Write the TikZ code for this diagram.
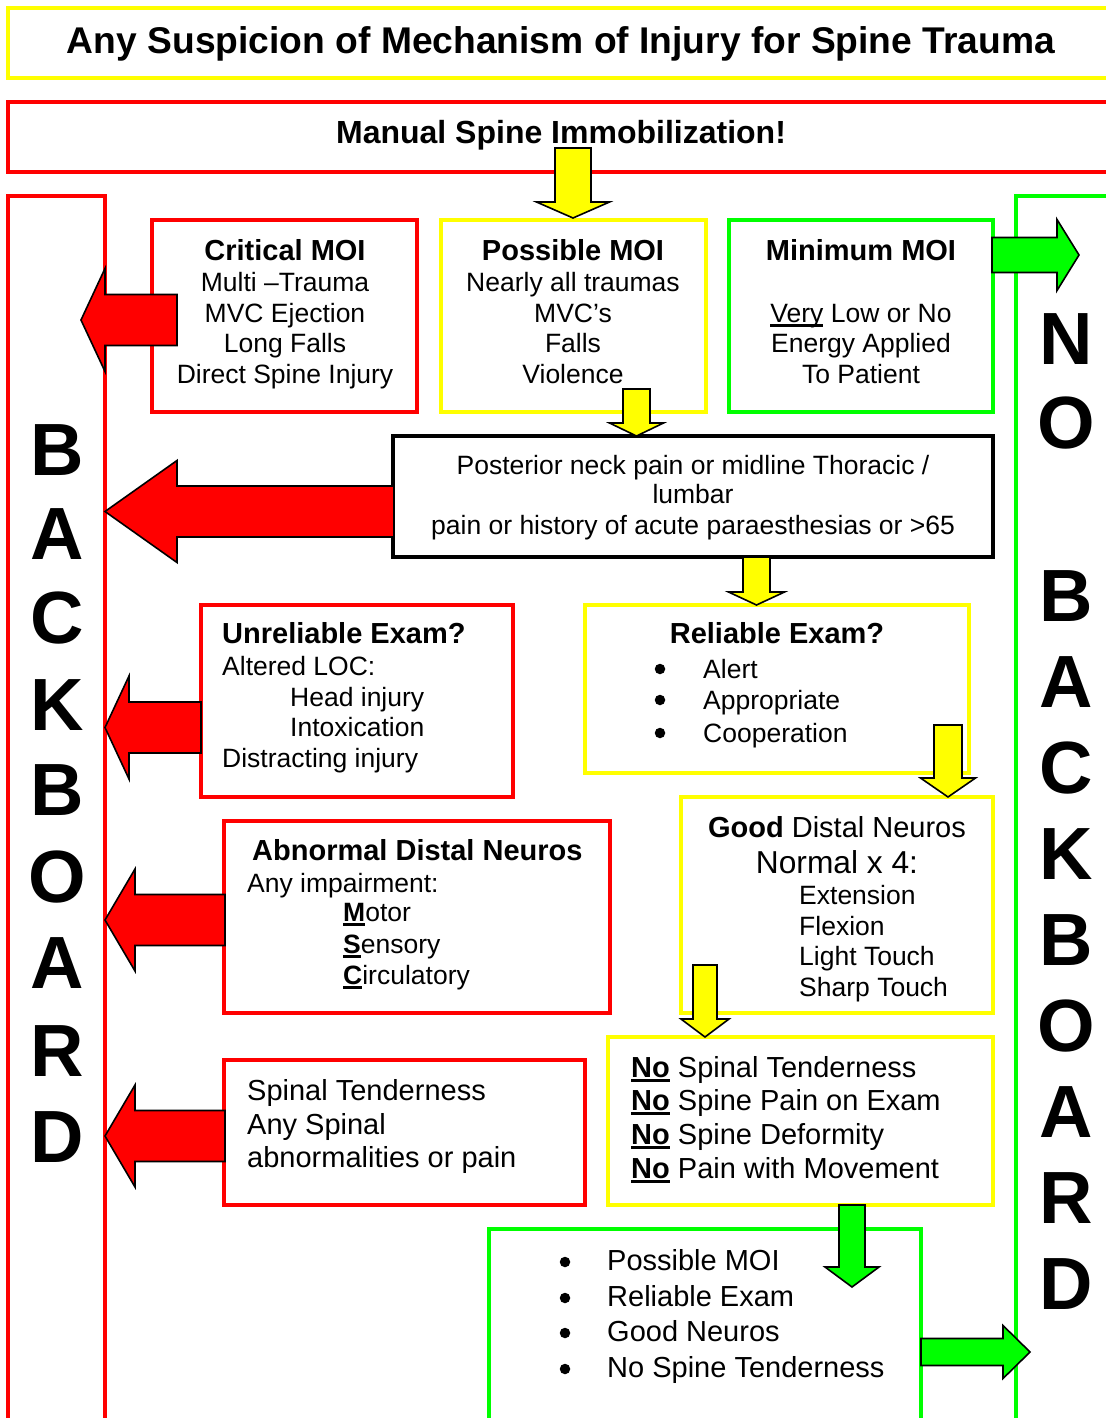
\documentclass[tikz,border=0pt]{standalone}
\usepackage{fontspec}
\setmainfont{Liberation Sans}
\definecolor{bred}{RGB}{255,0,0}
\definecolor{byel}{RGB}{255,255,0}
\definecolor{bgrn}{RGB}{0,255,0}
\newcommand\myul[1]{\setbox0\hbox{#1}\rlap{\rule[-4pt]{\wd0}{2.5pt}}\box0\relax}
\newcommand\bodyfont{\fontsize{26.5pt}{30pt}\selectfont}
\newcommand\hdrfont{\fontsize{29pt}{33pt}\selectfont\bfseries}
\newcommand\midfont{\fontsize{29pt}{33pt}\selectfont}
\newcommand\myharrow[7]{\filldraw[blockarrow,fill=#1] (#2,#5-#6) -- (#3,#5-#6) -- (#3,#5-#7) -- (#4,#5) -- (#3,#5+#7) -- (#3,#5+#6) -- (#2,#5+#6) -- cycle;}
\newcommand\myvarrow[7]{\filldraw[blockarrow,fill=#1] (#2-#6,#3) -- (#2-#6,#4) -- (#2-#7,#4) -- (#2,#5) -- (#2+#7,#4) -- (#2+#6,#4) -- (#2+#6,#3) -- cycle;}
\newcommand\mybox[6]{\node[boxst,draw=#2,minimum width={#5-#3},minimum height={#6-#4}] (#1) at ({(#3+#5)/2},{(#4+#6)/2}) {};}
\begin{document}
\begin{tikzpicture}[x=1pt,y=-1pt,
  boxst/.style={line width=4pt, inner sep=0pt, outer sep=0pt},
  blockarrow/.style={draw=black, line width=1.6pt, line join=miter},
  txt/.style={inner sep=0pt, anchor=base, font=\bodyfont},
  txtl/.style={inner sep=0pt, anchor=base west, font=\bodyfont},
  hdr/.style={inner sep=0pt, anchor=base, font=\hdrfont},
  hdrl/.style={inner sep=0pt, anchor=base west, font=\hdrfont},
  bullet/.style={circle, fill=black, inner sep=0pt, minimum size=10.5pt},
  bigl/.style={inner sep=0pt, anchor=base, font=\fontsize{74pt}{80pt}\selectfont\bfseries}]
\useasboundingbox (0,0) rectangle (1105,1418);
\fill[white] (0,0) rectangle (1105,1418);
% boxes
\mybox{title}{byel}{8}{8}{1125}{78}
\mybox{manual}{bred}{8}{102}{1125}{172}
\mybox{backL}{bred}{8}{196}{105}{1440}
\mybox{backR}{bgrn}{1016}{196}{1125}{1440}
\mybox{crit}{bred}{152}{220}{417}{412}
\mybox{poss}{byel}{441}{220}{706}{412}
\mybox{mini}{bgrn}{729}{220}{993}{412}
\mybox{post}{black}{393}{436}{993}{557}
\mybox{unrel}{bred}{201}{605}{513}{797}
\mybox{reli}{byel}{585}{605}{969}{773}
\mybox{abn}{bred}{224}{821}{610}{1013}
\mybox{good}{byel}{681}{797}{993}{1013}
\mybox{spin}{bred}{224}{1060}{585}{1205}
\mybox{nosp}{byel}{608}{1037}{993}{1205}
\mybox{bott}{bgrn}{489}{1229}{921}{1440}
% texts
\node[inner sep=0pt, anchor=base, font=\fontsize{37.2pt}{40pt}\selectfont\bfseries] (titletxt) at (561,54) {Any Suspicion of Mechanism of Injury for Spine Trauma};
\node[inner sep=0pt, anchor=base, font=\fontsize{32pt}{36pt}\selectfont\bfseries] (manualtxt) at (561,143) {Manual Spine Immobilization!};
% critical
\node[hdr] (c0) at (285,260.5) {Critical MOI};
\node[txt] (c1) at (285,291.5) {Multi –Trauma};
\node[txt] (c2) at (285,322.5) {MVC Ejection};
\node[txt] (c3) at (285,352.5) {Long Falls};
\node[txt] (c4) at (285,383.5) {Direct Spine Injury};
% possible
\node[hdr] (p0) at (573,260.5) {Possible MOI};
\node[txt] (p1) at (573,291.5) {Nearly all traumas};
\node[txt] (p2) at (573,322.5) {MVC’s};
\node[txt] (p3) at (573,352.5) {Falls};
\node[txt] (p4) at (573,383.5) {Violence};
% minimum
\node[hdr] (m0) at (861,260.5) {Minimum MOI};
\node[txt] (m2) at (861,322.5) {\myul{Very} Low or No};
\node[txt] (m3) at (861,352.5) {Energy Applied};
\node[txt] (m4) at (861,383.5) {To Patient};
% posterior
\node[txt] (q1) at (693,474.5) {Posterior neck pain or midline Thoracic /};
\node[txt] (q2) at (693,503.5) {lumbar};
\node[txt] (q3) at (693,534.5) {pain or history of acute paraesthesias or >65};
% unreliable
\node[hdrl] (u0) at (222,643.5) {Unreliable Exam?};
\node[txtl] (u1) at (222,675.5) {Altered LOC:};
\node[txtl] (u2) at (290,706.5) {Head injury};
\node[txtl] (u3) at (290,736.5) {Intoxication};
\node[txtl] (u4) at (222,767.5) {Distracting injury};
% reliable
\node[hdr] (r0) at (777,643.5) {Reliable Exam?};
\node[bullet] (rb1) at (660,669) {};
\node[bullet] (rb2) at (660,700) {};
\node[bullet] (rb3) at (660,733) {};
\node[txtl] (r1) at (703,678.5) {Alert};
\node[txtl] (r2) at (703,709.5) {Appropriate};
\node[txtl] (r3) at (703,742.5) {Cooperation};
% abnormal
\node[hdrl] (a0) at (252,860.5) {Abnormal Distal Neuros};
\node[txtl] (a1) at (247,892.5) {Any impairment:};
\node[txtl] (a2) at (343,921.5) {\myul{\bfseries M}otor};
\node[txtl] (a3) at (343,953.5) {\myul{\bfseries S}ensory};
\node[txtl] (a4) at (343,984.5) {\myul{\bfseries C}irculatory};
% good
\node[txt, font=\midfont] (g0) at (837,837.5) {\textbf{Good} Distal Neuros};
\node[txt, font=\fontsize{31.7pt}{35pt}\selectfont] (g1) at (837,873.5) {Normal x 4:};
\node[txtl] (g2) at (799,904.5) {Extension};
\node[txtl] (g3) at (799,935.5) {Flexion};
\node[txtl] (g4) at (799,965.5) {Light Touch};
\node[txtl] (g5) at (799,996.5) {Sharp Touch};
% spinal
\node[txtl, font=\midfont] (s1) at (247,1100.5) {Spinal Tenderness};
\node[txtl, font=\midfont] (s2) at (247,1134.5) {Any Spinal};
\node[txtl, font=\midfont] (s3) at (247,1167.5) {abnormalities or pain};
% no spinal
\node[txtl, font=\midfont] (n1) at (631,1077.5) {\myul{\bfseries No} Spinal Tenderness};
\node[txtl, font=\midfont] (n2) at (631,1110.5) {\myul{\bfseries No} Spine Pain on Exam};
\node[txtl, font=\midfont] (n3) at (631,1144.5) {\myul{\bfseries No} Spine Deformity};
\node[txtl, font=\midfont] (n4) at (631,1178.5) {\myul{\bfseries No} Pain with Movement};
% bottom
\node[bullet] (bb1) at (565,1262) {};
\node[bullet] (bb2) at (565,1298) {};
\node[bullet] (bb3) at (565,1333) {};
\node[bullet] (bb4) at (565,1369) {};
\node[txtl, font=\midfont] (b1) at (607,1270.5) {Possible MOI};
\node[txtl, font=\midfont] (b2) at (607,1306.5) {Reliable Exam};
\node[txtl, font=\midfont] (b3) at (607,1341.5) {Good Neuros};
\node[txtl, font=\midfont] (b4) at (607,1377.5) {No Spine Tenderness};
% backboard letters
\foreach \l/\yy [count=\i] in {B/449,A/533,C/617,K/704,B/789,O/876,A/962,R/1050,D/1136}
  \node[bigl] (L\i) at (57,\yy+26.5) {\l};
\foreach \l/\yy [count=\i] in {N/338,O/422,B/595,A/681,C/767,K/853,B/939,O/1025,A/1111,R/1197,D/1283}
  \node[bigl] (R\i) at (1066,\yy+26.5) {\l};
% block arrows
\myvarrow{byel}{573}{148}{202}{218}{18}{36.5}
\myharrow{bred}{177}{105}{81}{320}{25.5}{51.5}
\myharrow{bgrn}{992}{1057}{1079}{255}{17.5}{35.5}
\myvarrow{byel}{636.5}{389}{423}{436}{13.5}{27}
\myharrow{bred}{394}{177}{105}{511.5}{25.5}{51}
\myvarrow{byel}{756.5}{557}{592}{605}{13.5}{28}
\myharrow{bred}{201}{129}{105}{727.5}{25.5}{51.5}
\myvarrow{byel}{948}{725}{778}{797}{14}{27.5}
\myharrow{bred}{225}{135}{105}{920}{25.5}{51}
\myvarrow{byel}{705}{965}{1019}{1037}{12}{24}
\myharrow{bred}{225}{135}{105}{1136}{25.5}{51}
\myvarrow{bgrn}{852}{1205}{1267}{1287}{13}{27}
\myharrow{bgrn}{921}{1003}{1030}{1352}{13.5}{26.5}
\end{tikzpicture}
\end{document}
